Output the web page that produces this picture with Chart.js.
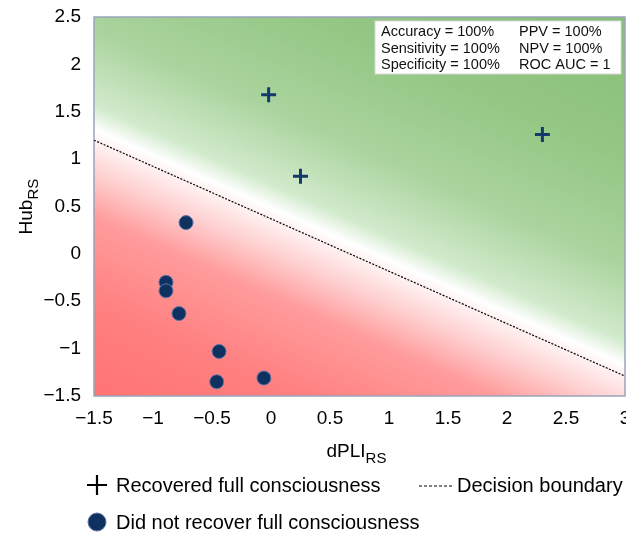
<!DOCTYPE html>
<html>
<head>
<meta charset="utf-8">
<script src="https://cdn.jsdelivr.net/npm/chart.js@4.4.1/dist/chart.umd.min.js"></script>
<style>
    html, body {
        margin: 0;
        padding: 0;
        background: #fff;
        overflow: hidden;
    }
</style>
</head>
<body>
<canvas id="chart" width="626" height="534"></canvas>

<script>
    // values
    const recoveredX = [-0.02, 0.25, 2.3];
    const recoveredY = [1.68, 0.82, 1.26];
    const notRecoveredX = [-0.72, -0.89, -0.89, -0.78, -0.44, -0.46, -0.06];
    const notRecoveredY = [0.33, -0.30, -0.39, -0.63, -1.03, -1.35, -1.31];
    const boundaryX = [-1.5, 3];
    const boundaryY = [1.2, -1.29];

    const xRange = [-1.5, 3];
    const yRange = [-1.5, 2.5];
    const tickStep = 0.5;

    const statsLeft = ['Accuracy = 100%', 'Sensitivity = 100%', 'Specificity = 100%'];
    const statsRight = ['PPV = 100%', 'NPV = 100%', 'ROC AUC = 1'];

    const legendLabels = ['Recovered full consciousness', 'Decision boundary', 'Did not recover full consciousness'];

    const FONT = '"Liberation Sans", Arial, sans-serif';
    const NAVY = '#0f315f';

    // colour along the normal of the decision boundary (px distance, + = green side)
    const shadeStops = [
        [-240, 'rgb(255,116,116)'],
        [-150, 'rgb(255,128,128)'],
        [-70, 'rgb(255,156,156)'],
        [-30, 'rgb(254,208,208)'],
        [0, 'rgb(255,242,242)'],
        [10, 'rgb(255,255,255)'],
        [32, 'rgb(210,234,204)'],
        [100, 'rgb(170,212,158)'],
        [200, 'rgb(148,199,132)'],
        [330, 'rgb(134,190,118)']
    ];

    const toPoints = (xs, ys) => xs.map((v, i) => ({x: v, y: ys[i]}));

    const minus = v => v < 0 ? '\u2212' + Math.abs(v) : String(v);

    const shadePlugin = {
        id: 'shade',
        beforeDatasetsDraw(chart) {
            const {ctx, chartArea: a, scales: {x, y}} = chart;
            const x0 = x.getPixelForValue(boundaryX[0]), y0 = y.getPixelForValue(boundaryY[0]);
            const x1 = x.getPixelForValue(boundaryX[1]), y1 = y.getPixelForValue(boundaryY[1]);
            const len = Math.hypot(x1 - x0, y1 - y0);
            const nx = (y1 - y0) / len, ny = -(x1 - x0) / len;
            const ds = [[a.left, a.top], [a.right, a.top], [a.left, a.bottom], [a.right, a.bottom]]
                .map(([cx, cy]) => (cx - x0) * nx + (cy - y0) * ny);
            const dMin = Math.min(...ds), dMax = Math.max(...ds);
            const g = ctx.createLinearGradient(x0 + nx * dMin, y0 + ny * dMin, x0 + nx * dMax, y0 + ny * dMax);
            shadeStops.forEach(([d, c]) => {
                const t = Math.min(1, Math.max(0, (d - dMin) / (dMax - dMin)));
                g.addColorStop(t, c);
            });
            ctx.save();
            ctx.fillStyle = g;
            ctx.fillRect(a.left, a.top, a.right - a.left, a.bottom - a.top);
            ctx.strokeStyle = '#9aa4bb';
            ctx.lineWidth = 1.5;
            ctx.strokeRect(a.left, a.top, a.right - a.left, a.bottom - a.top);
            ctx.restore();
        }
    };

    function subText(ctx, main, sub, x, y, size, subSize) {
        ctx.font = size + 'px ' + FONT;
        ctx.fillText(main, x, y);
        const w = ctx.measureText(main).width;
        ctx.font = subSize + 'px ' + FONT;
        ctx.fillText(sub, x + w, y + size * 0.3);
        return w + ctx.measureText(sub).width;
    }

    const annotatePlugin = {
        id: 'annotate',
        afterDraw(chart) {
            const {ctx, chartArea: a} = chart;
            ctx.save();

            // stats box
            const bx = a.right - 250, by = a.top + 4, bw = 246, bh = 53;
            ctx.fillStyle = '#fff';
            ctx.fillRect(bx, by, bw, bh);
            ctx.strokeStyle = '#d8d8d8';
            ctx.lineWidth = 1;
            ctx.strokeRect(bx, by, bw, bh);
            ctx.fillStyle = '#111';
            ctx.font = '14.5px ' + FONT;
            ctx.textBaseline = 'middle';
            statsLeft.forEach((t, i) => ctx.fillText(t, bx + 6, by + 11 + i * 16.7));
            statsRight.forEach((t, i) => ctx.fillText(t, bx + 144, by + 11 + i * 16.7));

            // axis titles
            ctx.fillStyle = '#000';
            ctx.textBaseline = 'alphabetic';
            ctx.font = '19px ' + FONT;
            const xw = ctx.measureText('dPLI').width + 21;
            subText(ctx, 'dPLI', 'RS', (a.left + a.right) / 2 - xw / 2 - 3, 457, 19, 15);

            ctx.save();
            ctx.translate(32, (a.top + a.bottom) / 2);
            ctx.rotate(-Math.PI / 2);
            ctx.font = '19px ' + FONT;
            const yw = ctx.measureText('Hub').width + 21;
            subText(ctx, 'Hub', 'RS', -yw / 2, 0, 19, 15);
            ctx.restore();

            // legend
            ctx.textBaseline = 'middle';
            ctx.font = '20px ' + FONT;
            ctx.strokeStyle = '#000';
            ctx.lineWidth = 2.2;
            ctx.beginPath();
            ctx.moveTo(87, 485); ctx.lineTo(107, 485);
            ctx.moveTo(97, 475); ctx.lineTo(97, 495);
            ctx.stroke();
            ctx.fillText(legendLabels[0], 116, 486);

            ctx.lineWidth = 1;
            ctx.setLineDash([3, 2]);
            ctx.beginPath();
            ctx.moveTo(419, 486); ctx.lineTo(452, 486);
            ctx.stroke();
            ctx.setLineDash([]);
            ctx.fillText(legendLabels[1], 457, 486);

            ctx.fillStyle = NAVY;
            ctx.strokeStyle = '#5b74a8';
            ctx.lineWidth = 1;
            ctx.beginPath();
            ctx.arc(97, 522, 9, 0, Math.PI * 2);
            ctx.fill();
            ctx.stroke();
            ctx.fillStyle = '#000';
            ctx.fillText(legendLabels[2], 116, 523);

            ctx.restore();
        }
    };

    new Chart(document.getElementById('chart'), {
        type: 'scatter',
        data: {
            datasets: [{
                label: legendLabels[1],
                data: toPoints(boundaryX, boundaryY),
                showLine: true,
                borderColor: '#000',
                borderWidth: 1.2,
                borderDash: [2, 1.5],
                pointRadius: 0
            }, {
                label: legendLabels[0],
                data: toPoints(recoveredX, recoveredY),
                pointStyle: 'cross',
                pointRadius: 7.5,
                borderColor: '#143a6c',
                borderWidth: 3
            }, {
                label: legendLabels[2],
                data: toPoints(notRecoveredX, notRecoveredY),
                pointStyle: 'circle',
                pointRadius: 7,
                backgroundColor: NAVY,
                borderColor: '#5b74a8',
                borderWidth: 1
            }]
        },
        options: {
            responsive: false,
            animation: false,
            layout: {
                autoPadding: false,
                padding: {left: 0, top: 17, right: 1, bottom: 78}
            },
            plugins: {
                legend: {display: false},
                tooltip: {enabled: false}
            },
            scales: {
                x: {
                    type: 'linear',
                    min: xRange[0],
                    max: xRange[1],
                    grid: {display: false, drawTicks: false},
                    border: {display: false},
                    ticks: {
                        stepSize: tickStep,
                        padding: 11,
                        color: '#000',
                        font: {family: FONT, size: 19},
                        maxRotation: 0,
                        callback: minus
                    },
                    afterFit(scale) {
                        scale.height = 60;
                        scale.paddingLeft = 0;
                        scale.paddingRight = 0;
                    }
                },
                y: {
                    type: 'linear',
                    min: yRange[0],
                    max: yRange[1],
                    grid: {display: false, drawTicks: false},
                    border: {display: false},
                    ticks: {
                        stepSize: tickStep,
                        padding: 13,
                        color: '#000',
                        font: {family: FONT, size: 19},
                        callback: minus
                    },
                    afterFit(scale) {
                        scale.width = 94;
                        scale.paddingTop = 0;
                        scale.paddingBottom = 0;
                    }
                }
            }
        },
        plugins: [shadePlugin, annotatePlugin]
    });
</script>
</body>
</html>
